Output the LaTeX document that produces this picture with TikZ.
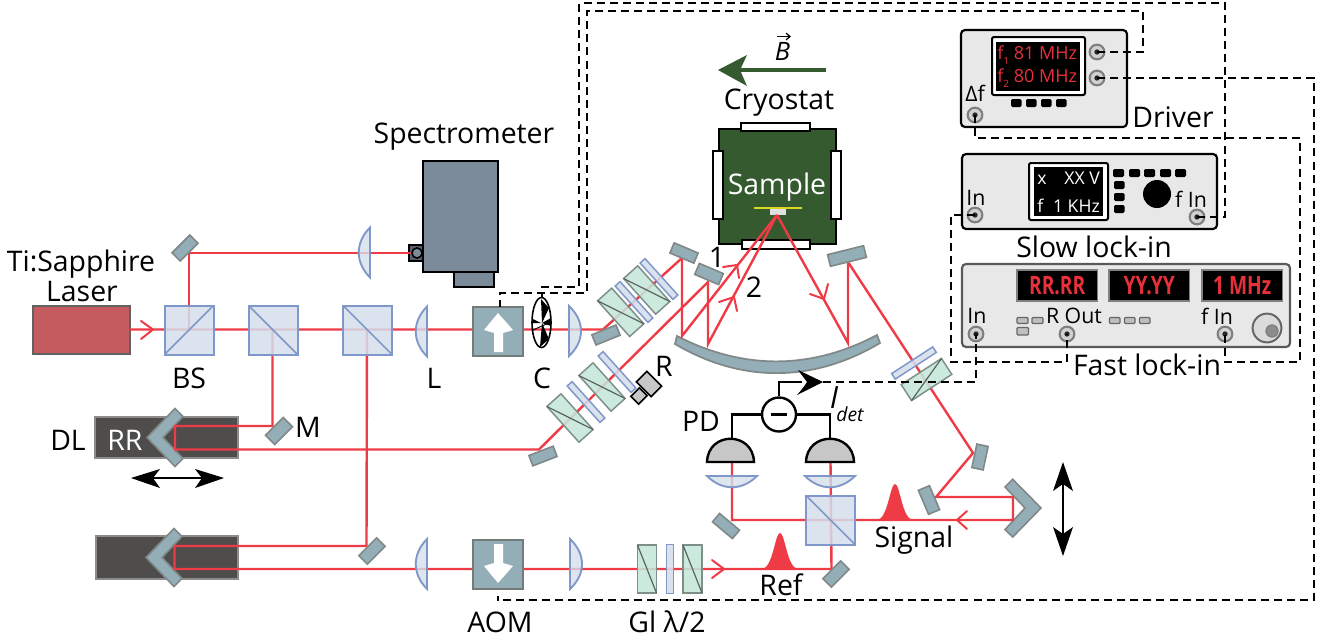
\documentclass[tikz,border=0pt]{standalone}
\usepackage{fontspec}
\setmainfont{Open Sans}
\usetikzlibrary{arrows.meta,calc,shapes.geometric}
\definecolor{beam}{HTML}{EE3B45}
\definecolor{cubefill}{HTML}{D5DEEB}
\definecolor{cubeline}{HTML}{7F97C9}
\definecolor{steel}{HTML}{93AEB6}
\definecolor{steelline}{HTML}{808888}
\definecolor{prismfill}{HTML}{C5E6DA}
\definecolor{prismline}{HTML}{7D8F88}
\definecolor{stage}{HTML}{4F4C4C}
\definecolor{cryo}{HTML}{355A30}
\definecolor{panel}{HTML}{E8E8E8}
\definecolor{ledred}{HTML}{E8303A}
\definecolor{specgray}{HTML}{7B8B9A}
\definecolor{lasercol}{HTML}{C45C5F}
\tikzset{
  lab/.style={inner sep=0pt,font=\fontsize{21.3}{24}\selectfont,text=black},
  whitelab/.style={inner sep=0pt,font=\fontsize{21.3}{24}\selectfont,text=white},
  smalllab/.style={inner sep=0pt,font=\fontsize{16}{18}\selectfont,text=black},
  beamline/.style={draw=beam,line width=1.8pt,line join=miter},
  barb/.style={draw=beam,line width=1.5pt,line cap=round},
  mirrorbox/.style={draw=steelline,fill=steel,line width=1.2pt},
  cubebox/.style={draw=cubeline,fill=cubefill,line width=1.5pt,fill opacity=.86},
  cubediag/.style={draw=cubeline,line width=1.3pt},
  lensbody/.style={draw=cubeline,fill=cubefill,line width=1.4pt,fill opacity=.8},
  prismbox/.style={draw=prismline,fill=prismfill,line width=1.1pt,fill opacity=.88},
  prismdiag/.style={draw=prismline!70!black,line width=.9pt},
  plate/.style={draw=cubeline,fill=cubefill,line width=1.1pt,fill opacity=.88},
  aombox/.style={draw=steelline!90!black,fill=steel,line width=2pt},
  wire/.style={draw=black,line width=1.7pt},
  dashline/.style={draw=black,line width=1.1pt,dash pattern=on 6pt off 3.8pt},
  conn/.style={circle,draw=black!50,fill=black!18,line width=1.6pt,minimum size=11pt,inner sep=0pt,
    path picture={\fill[black!85] (path picture bounding box.center) circle (2pt);}},
  blackbtn/.style={fill=black,rounded corners=1pt},
  graybtn/.style={draw=black!60,fill=black!25,line width=.9pt,rounded corners=.8pt},
  led/.style={inner sep=0pt,text=ledred,font=\fontsize{13.5}{15}\selectfont},
  ledbold/.style={inner sep=0pt,text=ledred,font=\fontsize{19}{20}\bfseries\selectfont},
  lcdtxt/.style={inner sep=0pt,text=white,font=\fontsize{13.2}{15}\selectfont}
}
\newcommand{\MirrorAt}[5]{\draw[mirrorbox,shift={(#1,#2)},rotate=#3] (-#4/2,-#5/2) rectangle (#4/2,#5/2);}
\newcommand{\CubeAt}[3]{% x y  dir(1=tl-br,-1=bl-tr)
  \draw[cubebox] (#1-24.5,#2-24.5) rectangle (#1+24.5,#2+24.5);
  \draw[cubediag] (#1-24.5,#2-#3*24.5) -- (#1+24.5,#2+#3*24.5);}
\newcommand{\LensOpenRight}[2]{\draw[lensbody] (#1,#2-25) .. controls (#1+16,#2-10) and (#1+16,#2+10) .. (#1,#2+25) -- cycle;}
\newcommand{\LensOpenLeft}[2]{\draw[lensbody] (#1,#2-25) .. controls (#1-15,#2-10) and (#1-15,#2+10) .. (#1,#2+25) -- cycle;}
\newcommand{\LensDown}[2]{\draw[lensbody] (#1-25,#2) .. controls (#1-10,#2+15) and (#1+10,#2+15) .. (#1+25,#2) -- cycle;}
\newcommand{\PrismAt}[3]{\begin{scope}[shift={(#1,#2)},rotate=#3]
  \draw[prismbox] (-9.5,-24) rectangle (9.5,24);
  \draw[prismdiag] (-9.5,-24) -- (9.5,24);\end{scope}}
\newcommand{\PlateAt}[3]{\draw[plate,shift={(#1,#2)},rotate=#3] (-3.3,-24.5) rectangle (3.3,24.5);}
\newcommand{\Chevron}[2]{% apex x, centre y
  \draw[mirrorbox] (#1+28,#2-29) -- (#1+36,#2-21) -- (#1+16,#2) -- (#1+36,#2+21) -- (#1+28,#2+29) -- (#1,#2) -- cycle;}
\newcommand{\OpenHead}[3]{\draw[barb] (#1) -- (#3); \draw[barb] (#2) -- (#3);}
\begin{document}
\begin{tikzpicture}[x=.75pt,y=-.75pt]
\useasboundingbox (0,0) rectangle (1338,643);
% -----------  named beam points
\coordinate (laserout) at (130,329.5);
\coordinate (bsup) at (189,329.5);
\coordinate (m0) at (189,253);
\coordinate (specin) at (411,253);
\coordinate (c2) at (272.5,329.5);
\coordinate (m1) at (272.5,426);
\coordinate (r1a) at (175,426);
\coordinate (r1b) at (175,449.5);
\coordinate (m2) at (539,449.5);
\coordinate (m3) at (708,282);
\coordinate (cm2) at (708,344);
\coordinate (c3) at (367,329.5);
\coordinate (m4) at (366.5,546);
\coordinate (r2a) at (174.5,546);
\coordinate (r2b) at (174.5,569);
\coordinate (m5) at (831.5,569);
\coordinate (pdR) at (830.5,462);
\coordinate (m6) at (603,329.5);
\coordinate (m7) at (682,258);
\coordinate (cm1) at (682,336);
\coordinate (samplept) at (777,215);
\coordinate (cm3) at (848,343);
\coordinate (m8) at (848,262);
\coordinate (m9) at (973,453);
\coordinate (m10) at (936,497);
\coordinate (r3a) at (1013,497);
\coordinate (r3b) at (1013,520);
\coordinate (m11) at (732,520);
\coordinate (pdL) at (732,462);
% -----------  spectrometer
\draw[fill=specgray,line width=1.5pt] (423,161) rectangle (498,272);
\draw[fill=specgray,line width=1.5pt] (454,272) rectangle (494,287);
\draw[fill=specgray!70!black,line width=1.5pt] (409,245) rectangle (423,261);
\draw[fill=specgray,line width=1.2pt] (417,253) circle (3.8pt);
% -----------  laser
\draw[fill=lasercol,draw=black!62,line width=1.8pt] (33,306) rectangle (130,354);
% -----------  delay stages
\fill[stage] (95,417) rectangle (238,458);
\draw[black!45,line width=.8pt] (95,417) rectangle (238,458);
\Chevron{147}{437.5}
\fill[stage] (96,536) rectangle (238,579);
\draw[black!45,line width=.8pt] (96,536) rectangle (238,579);
\Chevron{146}{557.5}
\draw[mirrorbox] (1012.7,479.3) -- (1041,508) -- (1012.7,537) -- (1005,529.5) -- (1025,508) -- (1005,487) -- cycle;
% -----------  cryostat
\draw[fill=cryo,line width=1.8pt] (719,129) rectangle (836,244);
\draw[fill=white,line width=1.8pt] (741,123) rectangle (810,131);
\draw[fill=white,line width=1.8pt] (742,240) rectangle (810,249);
\draw[fill=white,line width=1.8pt] (713,151) rectangle (723,219);
\draw[fill=white,line width=1.8pt] (831,151) rectangle (841,219);
\draw[draw=yellow!85!black,line width=1.1pt] (754,208) -- (802,208);
\fill[black!12] (770,209) rectangle (786,215);
\node[whitelab] (samplelab) at (777,187) {Sample};
% -----------  B arrow
\coordinate (Bstart) at (826,70);
\coordinate (Bend) at (738,70);
\draw[draw=cryo,line width=3.6pt] (Bstart) -- (Bend);
\fill[cryo] (718,70) -- (747,55) .. controls (743,62) .. (740,70) .. controls (743,78) .. (747,86) -- cycle;
\node[inner sep=0pt,anchor=base,font=\fontsize{19}{22}\itshape\selectfont] (Blab) at (782.5,60.5) {B};
\coordinate (Barrow1) at (777,36.5);
\coordinate (Barrow2) at (791,36.5);
\draw[line width=.9pt,-{Straight Barb[length=3pt,width=5pt]}] (Barrow1) -- (Barrow2);
% -----------  curved mirror
\draw[mirrorbox,line width=1.3pt] (677,336) .. controls (743,370) and (811,370) .. (877,335) -- (880,343) .. controls (813,383) and (741,383) .. (675,344) -- cycle;
% -----------  beams
\draw[beamline] (laserout) -- (c3) -- (m6) -- (m7) -- (cm1) -- (samplept);
\draw[beamline] (bsup) -- (m0) -- (specin);
\draw[beamline] (c2) -- (m1) -- (r1a) -- (r1b) -- (m2) -- (m3) -- (cm2) -- (samplept);
\draw[beamline] (c3) -- (m4) -- (r2a) -- (r2b) -- (m5) -- (pdR);
\draw[beamline] (samplept) -- (cm3) -- (m8) -- (m9) -- (m10) -- (r3a) -- (r3b) -- (m11) -- (pdL);
% -----------  pulses
\fill[beam] (762,569) .. controls (773,568) and (775,533) .. (780,533) .. controls (785,533) and (787,568) .. (798,569) -- cycle;
\fill[beam] (877,520) .. controls (888,519) and (890,484) .. (895,484) .. controls (900,484) and (902,519) .. (913,520) -- cycle;
% -----------  open arrow heads on beams
\OpenHead{141,321}{141,339}{153,329.5}
\OpenHead{723,267}{739,278}{737,265}
\OpenHead{719,302}{737,311}{734,297}
\OpenHead{810,294}{828,284}{824,299}
\OpenHead{712,560}{712,578}{724,569}
\OpenHead{967,511}{967,529}{957,520}
% -----------  mirrors
\MirrorAt{185}{248}{45}{25}{11.5}
\MirrorAt{279}{431}{45}{25}{13}
\MirrorAt{372}{551}{45}{25}{12}
\MirrorAt{606}{335}{22}{26}{11}
\MirrorAt{684}{253}{-23}{26}{11}
\MirrorAt{709}{274}{-23}{26}{12}
\MirrorAt{543}{456}{21}{26}{11}
\MirrorAt{847}{256}{14}{37}{12}
\MirrorAt{980}{457}{78}{24}{11.5}
\MirrorAt{929}{500}{-67}{26}{12}
\MirrorAt{726}{526}{-40}{26}{11}
\MirrorAt{836}{574}{45}{25}{12}
% -----------  cubes, lenses
\CubeAt{189}{330}{-1}
\CubeAt{273}{330}{1}
\CubeAt{367.5}{330}{1}
\CubeAt{830.5}{520}{1}
\LensOpenLeft{370}{252.5}
\LensOpenLeft{427}{331.5}
\LensOpenRight{569}{331}
\LensOpenLeft{427}{564}
\LensOpenRight{570}{564}
\LensDown{732}{476}
\LensDown{830}{476}
% -----------  AOMs
\draw[aombox] (473,307) rectangle (523,356);
\fill[white] (498,313) -- (513,330) -- (503,333) -- (503,352) -- (494,352) -- (494,333) -- (484,330) -- cycle;
\draw[aombox] (473,540) rectangle (523,589);
\fill[white] (498,583) -- (513,566) -- (503,563) -- (503,544) -- (494,544) -- (494,563) -- (484,566) -- cycle;
% -----------  chopper
\draw[line width=1.2pt] (541.5,322.5) ellipse [x radius=9.5,y radius=25];
\fill (542,323) -- (541,299) -- (549,308) -- cycle;
\fill (542,323) -- (540,347) -- (549,339) -- cycle;
\fill (542,323) -- (551,318) -- (551,326) -- cycle;
\fill (541,323) -- (533,319) -- (533,323) -- cycle;
\draw[line width=.7pt] (533,330) -- (551,322);
% -----------  prisms & plates
\PrismAt{620.7}{312.3}{42}
\PlateAt{634}{302}{42}
\PrismAt{646.7}{290}{42}
\PlateAt{659}{279}{42}
\PrismAt{570}{418}{42}
\PlateAt{586}{402}{42}
\PrismAt{602}{387}{42}
\PlateAt{617}{372}{42}
\PrismAt{926.5}{379.5}{-57}
\PlateAt{914}{363}{-57}
\PrismAt{647}{569}{0}
\PlateAt{670}{569}{0}
\PrismAt{692.5}{569}{0}
% -----------  rotator
\draw[fill=black!22,line width=1.2pt,shift={(649,384)},rotate=-45] (-10.5,-7.5) rectangle (10.5,7.5);
\draw[fill=black!22,line width=1.2pt,shift={(639,396)},rotate=45] (-6,-5.5) rectangle (6,5.5);
% -----------  photodiodes
\draw[fill=black!22,line width=1.8pt] (707,462) .. controls (708,431) and (753,431) .. (754,462) -- cycle;
\draw[fill=black!22,line width=1.8pt] (806,462) .. controls (807,431) and (853,431) .. (854,462) -- cycle;
\node[circle,draw,line width=1.8pt,fill=white,minimum size=25.5pt,inner sep=0pt] (diff) at (779,414.5) {};
\draw[line width=1.8pt] (771,414.5) -- (787,414.5);
\coordinate (pdLtop) at (732,438);
\coordinate (pdRtop) at (830,438);
\draw[wire] (pdLtop) |- (diff.west);
\draw[wire] (pdRtop) |- (diff.east);
\coordinate (ioutc) at (802,382);
\draw[wire] (diff.north) |- (ioutc);
\coordinate (iouttip) at (823,382);
\fill (iouttip) -- (798,370) .. controls (803,376) .. (807,382) .. controls (803,388) .. (797,395) -- cycle;
% -----------  double arrows
\coordinate (dlL) at (136,478);
\coordinate (dlR) at (220,478);
\draw[line width=1.6pt] (dlL) -- (dlR);
\fill (131,478) -- (160,469) .. controls (156,474) .. (153,478) .. controls (156,483) .. (160,488) -- cycle;
\fill (224,478) -- (195,469) .. controls (199,474) .. (202,478) .. controls (199,483) .. (195,488) -- cycle;
\coordinate (raT) at (1063,470);
\coordinate (raB) at (1063,550);
\draw[line width=1.6pt] (raT) -- (raB);
\fill (1063,462) -- (1053,491) .. controls (1058,487) .. (1063,484) .. controls (1068,487) .. (1073,491) -- cycle;
\fill (1063,556) -- (1053,527) .. controls (1058,531) .. (1063,534) .. controls (1068,531) .. (1073,527) -- cycle;
% -----------  Driver
\draw[fill=panel,line width=1.6pt,rounded corners=3pt] (961,30) rectangle (1127,127);
\draw[fill=white,line width=1.5pt,rounded corners=1.5pt] (992,37) rectangle (1085,95);
\fill[black] (996,42) rectangle (1080,91);
\node[led,anchor=base west] (f1lab) at (997,59.5) {f\raisebox{-4pt}{\fontsize{7.5}{8}\selectfont 1} 81 MHz};
\node[led,anchor=base west] (f2lab) at (997,82) {f\raisebox{-4pt}{\fontsize{7.5}{8}\selectfont 2} 80 MHz};
\foreach \bx in {1011,1026,1041,1056} \fill[blackbtn] (\bx,99) rectangle +(10.5,8);
\node[conn] (drvA) at (1097,52) {};
\node[conn] (drvB) at (1097,78) {};
\node[conn] (drvD) at (975,115) {};
\node[smalllab] (dflab) at (975,93) {Δf};
\node[lab] (drvlab) at (1173,117) {Driver};
% -----------  Slow lock-in
\draw[fill=panel,line width=1.6pt,rounded corners=3pt] (962,154) rectangle (1217,229);
\draw[fill=white,line width=1.5pt,rounded corners=1.5pt] (1029,163) rectangle (1108,220);
\fill[black] (1034,167) rectangle (1103,216);
\node[lcdtxt,anchor=base west] (s1) at (1037,184) {x};
\node[lcdtxt,anchor=base east] (s2) at (1100,184) {XX V};
\node[lcdtxt,anchor=base west] (s3) at (1037,212) {f};
\node[lcdtxt,anchor=base east] (s4) at (1100,212) {1 KHz};
\foreach \bx in {1113,1129,1144,1160,1175} \fill[blackbtn] (\bx,169) rectangle +(11,8);
\foreach \by in {181,193,205} \fill[blackbtn] (1114,\by) rectangle +(10.5,8);
\fill (1157,194) circle (10.5pt);
\node[conn] (slowIn) at (975,215) {};
\node[conn] (slowF) at (1197,217) {};
\node[smalllab] (slowinlab) at (976,198) {In};
\node[smalllab] (slowflab) at (1191,199) {f In};
\node[lab] (slowlab) at (1094,247) {Slow lock-in};
% -----------  Fast lock-in
\draw[fill=panel,draw=black!65,line width=1.6pt,rounded corners=3pt] (962,264) rectangle (1290,347);
\foreach \dx/\nm/\tx in {1017/da/RR.RR,1109/db/YY.YY,1202/dc/1 MHz}{
  \draw[fill=black,draw=black!50,line width=1.2pt] (\dx,270) rectangle +(80.5,31);
  \node[ledbold] (\nm) at (\dx+40.2,285.5) {\scalebox{.76}[1]{\tx}};
}
\foreach \bx/\by/\bw/\bh in {1017/317.5/11/6,1032/317.5/11/6,1017/327.5/11.5/7.5,1109.5/317.5/10.5/6,1124.5/317.5/10.5/6,1139.5/317.5/10.5/6}
  \draw[graybtn] (\bx,\by) rectangle +(\bw,\bh);
\draw[draw=black!60,fill=black!14,line width=1.5pt] (1267,328) circle (10.8pt);
\draw[draw=black!50,fill=black!45,line width=1pt] (1272,331) circle (4.5pt);
\node[conn] (fastIn) at (976,334) {};
\node[conn] (fastR) at (1067,334) {};
\node[conn] (fastF) at (1225,334) {};
\node[smalllab] (fastinlab) at (977,316) {In};
\node[smalllab] (fastrlab) at (1074,316) {R Out};
\node[smalllab] (fastflab) at (1217,316) {f In};
\node[lab] (fastlab) at (1147,365) {Fast lock-in};
% -----------  dashed cables
\coordinate (aomUpTop) at (500,307);
\coordinate (chopTop) at (542,298);
\coordinate (aomDnBot) at (498,596);
\draw[dashline] (drvA.center) -| (1143,11) -| (587,293) -| (aomUpTop);
\draw[dashline] (slowF.center) -| (1225,3) -| (579,287) -| (chopTop);
\draw[dashline] (drvB.center) -| (1314,600) -| (aomDnBot);
\draw[dashline] (drvD.center) |- (1300,138) -- (1300,362) -| (fastF.center);
\draw[dashline] (slowIn.center) -| (951,362) -| (fastR.center);
\draw[dashline] (iouttip) -| (fastIn.center);
% -----------  labels
\node[lab] (speclab) at (464,137) {Spectrometer};
\node[lab] (tilab) at (81,264) {Ti:Sapphire};
\node[lab] (laserlab) at (82,291) {Laser};
\node[lab] (bslab) at (189,378) {BS};
\node[lab] (llab) at (434,378) {L};
\node[lab] (clab) at (542,378) {C};
\node[lab] (rlab) at (664,366) {R};
\node[lab] (mlab) at (308,427) {M};
\node[lab] (dllab) at (68,440) {DL};
\node[whitelab] (rrlab) at (125,440) {RR};
\node[lab] (crylab) at (779,103) {Cryostat};
\node[lab] (lab1) at (717,257) {1};
\node[lab] (lab2) at (754,287) {2};
\node[lab] (pdlab) at (701,421) {PD};
\node[lab,font=\fontsize{23}{24}\itshape\selectfont] (ilab) at (834,398) {I};
\node[inner sep=0pt,font=\fontsize{14.5}{16}\itshape\selectfont] (dlab) at (850,414) {det};
\node[lab] (siglab) at (914,540) {Signal};
\node[lab] (reflab) at (781,585) {Ref};
\node[lab] (aomlab) at (500,622) {AOM};
\node[lab] (gllab) at (667,622) {Gl λ/2};
\end{tikzpicture}
\end{document}
